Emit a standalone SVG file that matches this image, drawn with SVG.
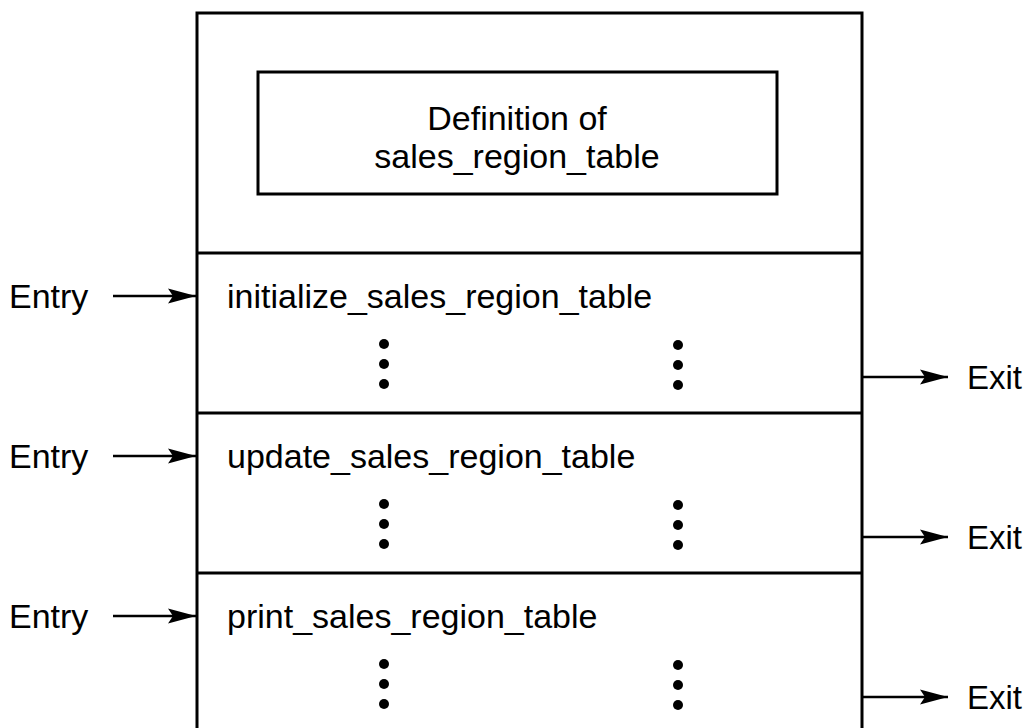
<svg xmlns="http://www.w3.org/2000/svg" width="1036" height="728" viewBox="0 0 1036 728">
  <style>
    .frame { fill: none; stroke: #000; stroke-width: 3; }
    .conn { fill: none; stroke: #000; stroke-width: 2.5; }
    .label { font-family: "Liberation Sans", Arial, Helvetica, sans-serif; font-size: 34px; fill: #000; }
    .exit { font-size: 33px; }
    .mid { text-anchor: middle; }
    .dot { fill: #000; }
  </style>
  <defs>
    <marker id="arrow" markerUnits="userSpaceOnUse" markerWidth="30" markerHeight="18" refX="28" refY="9" orient="auto">
      <path d="M0,1.5 L28,9 L0,16.5 L5,9 Z" fill="#000"/>
    </marker>
  </defs>
  <rect width="1036" height="728" fill="#fff"/>

  <!-- package outline: open at the bottom, split into four parts -->
  <g id="package">
    <path class="frame" d="M197,740 L197,13 L862,13 L862,740"/>
  </g>

  <g id="definition">
    <rect class="frame" x="258" y="72" width="519" height="122"/>
    <text class="label mid" x="517" y="130">Definition of</text>
    <text class="label mid" x="517" y="168">sales_region_table</text>
  </g>

  <g id="initialize">
    <line class="frame" x1="197" y1="253" x2="862" y2="253"/>
    <text class="label" x="227" y="308">initialize_sales_region_table</text>
    <circle class="dot" cx="384" cy="344" r="5"/>
    <circle class="dot" cx="384" cy="364" r="5"/>
    <circle class="dot" cx="384" cy="384" r="5"/>
    <circle class="dot" cx="678" cy="345" r="5"/>
    <circle class="dot" cx="678" cy="365" r="5"/>
    <circle class="dot" cx="678" cy="385" r="5"/>
  </g>

  <g id="update">
    <line class="frame" x1="197" y1="413" x2="862" y2="413"/>
    <text class="label" x="227" y="468">update_sales_region_table</text>
    <circle class="dot" cx="384" cy="504" r="5"/>
    <circle class="dot" cx="384" cy="524" r="5"/>
    <circle class="dot" cx="384" cy="544" r="5"/>
    <circle class="dot" cx="678" cy="505" r="5"/>
    <circle class="dot" cx="678" cy="525" r="5"/>
    <circle class="dot" cx="678" cy="545" r="5"/>
  </g>

  <g id="print">
    <line class="frame" x1="197" y1="573" x2="862" y2="573"/>
    <text class="label" x="227" y="628">print_sales_region_table</text>
    <circle class="dot" cx="384" cy="664" r="5"/>
    <circle class="dot" cx="384" cy="684" r="5"/>
    <circle class="dot" cx="384" cy="704" r="5"/>
    <circle class="dot" cx="678" cy="665" r="5"/>
    <circle class="dot" cx="678" cy="685" r="5"/>
    <circle class="dot" cx="678" cy="705" r="5"/>
  </g>

  <!-- entry and exit labels -->
  <g id="entry-exit-labels">
    <text class="label" x="9" y="308">Entry</text>
    <text class="label" x="9" y="468">Entry</text>
    <text class="label" x="9" y="628">Entry</text>
    <text class="label exit" x="967" y="389">Exit</text>
    <text class="label exit" x="967" y="549">Exit</text>
    <text class="label exit" x="967" y="709">Exit</text>
  </g>

  <g id="connectors">
    <line class="conn" x1="113" y1="296" x2="196" y2="296" marker-end="url(#arrow)"/>
    <line class="conn" x1="113" y1="456" x2="196" y2="456" marker-end="url(#arrow)"/>
    <line class="conn" x1="113" y1="616" x2="196" y2="616" marker-end="url(#arrow)"/>
    <line class="conn" x1="863" y1="377" x2="948" y2="377" marker-end="url(#arrow)"/>
    <line class="conn" x1="863" y1="537" x2="948" y2="537" marker-end="url(#arrow)"/>
    <line class="conn" x1="863" y1="697" x2="948" y2="697" marker-end="url(#arrow)"/>
  </g>
</svg>
